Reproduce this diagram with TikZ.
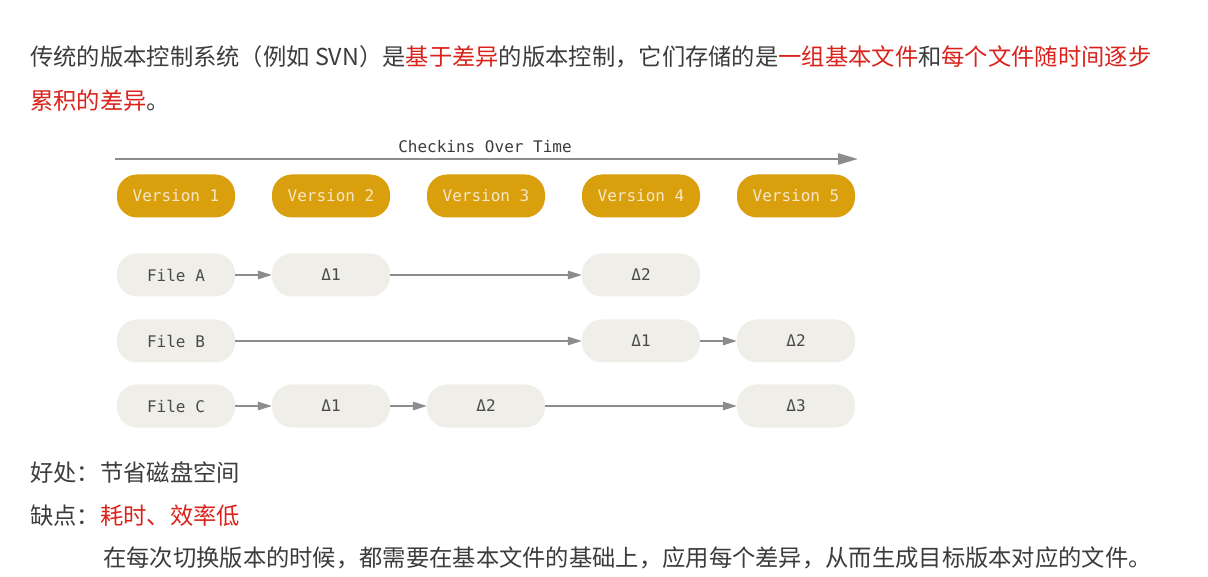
\documentclass[tikz,border=0pt]{standalone}
\usepackage{fontspec}
\setmainfont{Noto Sans CJK SC}
\newfontfamily\mono{DejaVu Sans Mono}
\usetikzlibrary{arrows.meta}
\definecolor{txt}{HTML}{3C3C3C}
\definecolor{hl}{HTML}{D9231C}
\definecolor{gold}{RGB}{217,159,12}
\definecolor{cream}{HTML}{F5E8C8}
\definecolor{pale}{HTML}{EFEEE9}
\definecolor{ftxt}{HTML}{4A4A4A}
\definecolor{lgray}{HTML}{8C8C8C}
\tikzset{
  para/.style={anchor=base west, inner sep=0pt, text=txt, font=\fontsize{23.3}{28}\selectfont},
  pill/.style={minimum width=118, minimum height=43, rounded corners=20, inner sep=0pt, font=\mono\fontsize{16}{19}\selectfont},
  ver/.style={pill, fill=gold, text=cream},
  fil/.style={pill, fill=pale, text=ftxt},
  con/.style={draw=lgray, line width=1.4pt, -{Triangle[length=14pt,width=8.5pt]}},
  tl/.style={draw=lgray, line width=2.4pt, -{Triangle[length=20pt,width=11pt]}}
}
\begin{document}
\begin{tikzpicture}[x=1pt,y=-1pt]
\path[use as bounding box, fill=white] (0,0) rectangle (1208,577);

\node[para] (l1) at (30,66) {传统的版本控制系统（例如 SVN）是\textcolor{hl}{基于差异}的版本控制，它们存储的是\textcolor{hl}{一组基本文件}和\textcolor{hl}{每个文件随时间逐步}};
\node[para] (l2) at (30,110) {\textcolor{hl}{累积的差异}。};

\coordinate (ts) at (115,159);
\coordinate (te) at (858,159);
\draw[tl] (ts) -- (te);
\node[inner sep=0pt, text=txt, font=\mono\fontsize{16}{19}\selectfont] (title) at (485,147) {Checkins Over Time};

\node[ver] (v1) at (176,196) {Version 1};
\node[ver] (v2) at (331,196) {Version 2};
\node[ver] (v3) at (486,196) {Version 3};
\node[ver] (v4) at (641,196) {Version 4};
\node[ver] (v5) at (796,196) {Version 5};

\node[fil] (fa) at (176,275) {File A};
\node[fil] (a1) at (331,275) {Δ1};
\node[fil] (a2) at (641,275) {Δ2};

\node[fil] (fb) at (176,341) {File B};
\node[fil] (b1) at (641,341) {Δ1};
\node[fil] (b2) at (796,341) {Δ2};

\node[fil] (fc) at (176,406) {File C};
\node[fil] (c1) at (331,406) {Δ1};
\node[fil] (c2) at (486,406) {Δ2};
\node[fil] (c3) at (796,406) {Δ3};

\draw[con] (fa) -- (a1);
\draw[con] (a1) -- (a2);
\draw[con] (fb) -- (b1);
\draw[con] (b1) -- (b2);
\draw[con] (fc) -- (c1);
\draw[con] (c1) -- (c2);
\draw[con] (c2) -- (c3);

\node[para] (p1) at (30,481) {好处：节省磁盘空间};
\node[para] (p2) at (30,524) {缺点：\textcolor{hl}{耗时、效率低}};
\node[para] (p3) at (103,566) {在每次切换版本的时候，都需要在基本文件的基础上，应用每个差异，从而生成目标版本对应的文件。};
\end{tikzpicture}
\end{document}
